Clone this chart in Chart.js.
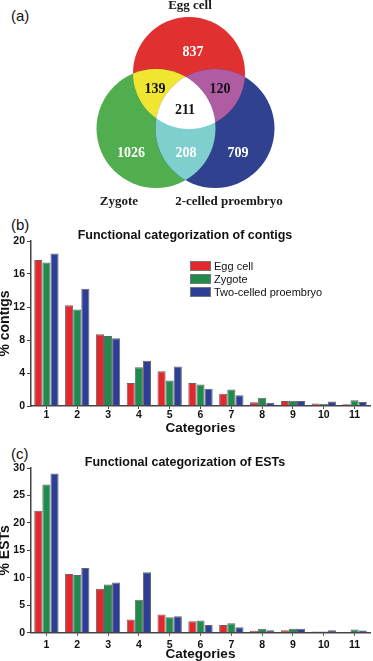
<!DOCTYPE html>
<html lang="en">
<head>
<meta charset="UTF-8" />
<title>Egg cell, zygote and two-celled proembryo</title>
<script src="https://cdn.jsdelivr.net/npm/chart.js@4.4.1/dist/chart.umd.min.js"></script>
<style>
  html, body { margin: 0; padding: 0; background: #fff; }
  body { width: 373px; height: 661px; position: relative; overflow: hidden; font-family: "Liberation Sans", Arial, sans-serif; color: #111; }
  canvas { position: absolute; left: 0; }
  .tag { position: absolute; left: 11px; font-size: 15px; line-height: 15px; }
  .legend { position: absolute; left: 190px; top: 260px; font-size: 11px; }
  .legend div { height: 12.8px; display: flex; align-items: center; }
  .legend span { display: inline-block; width: 19px; height: 8px; margin-right: 3px; border: 1px solid #777; }
</style>
</head>
<body>
  <div class="tag" style="top:8px">(a)</div>
  <div class="tag" style="top:217px">(b)</div>
  <div class="tag" style="top:446px">(c)</div>

  <canvas id="venn" width="373" height="215" style="top:0"></canvas>
  <canvas id="contigs" width="373" height="210" style="top:225px"></canvas>
  <canvas id="ests" width="373" height="216" style="top:445px"></canvas>
  <div class="legend" id="legend"></div>

<script>
  // Venn counts
  const vennSets = ['Egg cell', 'Zygote', '2-celled proembryo'];
  const vennRegions = ['Egg only', 'Zygote only', '2-cell only', 'Egg+Zygote', 'Egg+2-cell', 'Zygote+2-cell', 'All three'];
  const vennCounts = [837, 1026, 709, 139, 120, 208, 211];

  // functional categories
  const categories = ['1', '2', '3', '4', '5', '6', '7', '8', '9', '10', '11'];
  const seriesNames = ['Egg cell', 'Zygote', 'Two-celled proembryo'];

  const contigsEgg     = [17.7, 12.2, 8.7, 2.8, 4.2, 2.8, 1.5, 0.45, 0.6, 0.3, 0.2];
  const contigsZygote  = [17.4, 11.7, 8.5, 4.7, 3.1, 2.6, 2.0, 1.0, 0.65, 0.25, 0.7];
  const contigsTwoCell = [18.5, 14.2, 8.2, 5.5, 4.8, 2.1, 1.3, 0.4, 0.6, 0.55, 0.5];

  const estEgg     = [22.2, 10.7, 8.0, 2.4, 3.3, 2.1, 1.4, 0.35, 0.45, 0.2, 0];
  const estZygote  = [27.0, 10.5, 8.8, 6.0, 2.8, 2.2, 1.7, 0.7, 0.7, 0.2, 0.6];
  const estTwoCell = [29.0, 11.8, 9.15, 11.0, 3.0, 1.4, 1.0, 0.45, 0.7, 0.45, 0.4];

  const contigTicks = [0, 4, 8, 12, 16, 20];
  const estTicks = [0, 5, 10, 15, 20, 25, 30];

  const barColors = ['#e3272c', '#1e8a4c', '#2c3e96'];

  // Venn geometry, in canvas units (x 0..373, y 0..215 top-down)
  const vennCircles = [
    { x: 189, y: 73, r: 56, color: '#e0302f' },
    { x: 156, y: 128.5, r: 59.5, color: '#50ae4e' },
    { x: 215, y: 128.5, r: 59.5, color: '#2f418f' }
  ];
  const vennOverlapColors = { '0,1': '#f0e632', '0,2': '#b05ca2', '1,2': '#7fcfcf', '0,1,2': '#ffffff' };
  const vennSetLabelPos = [[190, 6], [119, 202], [229, 202]];
  const vennCountPos = [[193, 52], [131, 153], [238, 153], [155, 89], [220, 89], [186, 153], [185, 110]];
  const vennCountColors = ['#fff', '#fff', '#fff', '#111', '#111', '#fff', '#111'];

  Chart.defaults.font.family = '"Liberation Sans", Arial, sans-serif';
  Chart.defaults.color = '#111';

  const vennPlugin = {
    id: 'vennPlugin',
    afterDatasetsDraw(chart) {
      const ctx = chart.ctx;
      const pts = chart.getDatasetMeta(0).data.map(p => ({ x: p.x, y: p.y, r: p.options.radius }));
      const circle = i => { ctx.beginPath(); ctx.arc(pts[i].x, pts[i].y, pts[i].r, 0, Math.PI * 2); };

      Object.keys(vennOverlapColors).forEach(key => {
        const ids = key.split(',').map(Number);
        ctx.save();
        ids.slice(0, -1).forEach(i => { circle(i); ctx.clip(); });
        circle(ids[ids.length - 1]);
        ctx.fillStyle = vennOverlapColors[key];
        ctx.fill();
        ctx.restore();
      });

      const sx = chart.scales.x, sy = chart.scales.y;
      ctx.save();
      ctx.textAlign = 'center';
      ctx.textBaseline = 'middle';
      ctx.font = 'bold 14px "Liberation Serif", "Times New Roman", serif';
      vennCounts.forEach((n, i) => {
        ctx.fillStyle = vennCountColors[i];
        ctx.fillText(String(n), sx.getPixelForValue(vennCountPos[i][0]), sy.getPixelForValue(vennCountPos[i][1]));
      });
      ctx.font = 'bold 13px "Liberation Serif", "Times New Roman", serif';
      ctx.fillStyle = '#1a1a1a';
      vennSets.forEach((name, i) => {
        ctx.fillText(name, sx.getPixelForValue(vennSetLabelPos[i][0]), sy.getPixelForValue(vennSetLabelPos[i][1]));
      });
      ctx.restore();
    }
  };

  new Chart(document.getElementById('venn'), {
    type: 'bubble',
    data: {
      datasets: [{
        label: 'Venn',
        data: vennCircles.map(c => ({ x: c.x, y: c.y, r: c.r })),
        backgroundColor: vennCircles.map(c => c.color),
        borderWidth: 0
      }]
    },
    options: {
      responsive: false,
      animation: false,
      events: [],
      layout: { padding: 0, autoPadding: false },
      plugins: { legend: { display: false }, tooltip: { enabled: false } },
      scales: {
        x: { display: false, min: 0, max: 373 },
        y: { display: false, min: 0, max: 215, reverse: true }
      }
    },
    plugins: [vennPlugin]
  });

  function categoryChart(id, series, yTicks, yTitle, titleText, dims) {
    return new Chart(document.getElementById(id), {
      type: 'bar',
      data: {
        labels: categories,
        datasets: series.map((vals, i) => ({
          label: seriesNames[i],
          data: vals,
          backgroundColor: barColors[i],
          borderColor: '#666',
          borderWidth: 1,
          categoryPercentage: 0.79,
          barPercentage: 1.0
        }))
      },
      options: {
        responsive: false,
        animation: false,
        events: [],
        layout: { padding: { right: 3 } },
        plugins: {
          legend: { display: false },
          tooltip: { enabled: false },
          title: {
            display: true,
            text: titleText,
            color: '#111',
            font: { size: 12.5, weight: 'bold', lineHeight: 0.8 },
            padding: { top: dims.titleTop, bottom: 0 }
          }
        },
        scales: {
          x: {
            grid: { offset: false, drawOnChartArea: false, tickLength: 3, color: '#444' },
            border: { color: '#444', width: 1.5 },
            ticks: { color: '#111', font: { size: 10.5, weight: 'bold' }, padding: dims.tickPad },
            title: { display: true, text: 'Categories', color: '#111', font: { size: 13.5, weight: 'bold', lineHeight: 1 }, padding: 0 },
            afterFit: s => { s.height = dims.xHeight; }
          },
          y: {
            min: 0,
            max: yTicks[yTicks.length - 1],
            afterBuildTicks: s => { s.ticks = yTicks.map(v => ({ value: v })); },
            grid: { drawOnChartArea: false, tickLength: 4, color: '#444' },
            border: { color: '#444', width: 1.5 },
            ticks: { color: '#111', font: { size: 10.5, weight: 'bold' }, padding: 2 },
            title: { display: true, text: yTitle, color: '#111', font: { size: 14, weight: 'bold', lineHeight: 0.8 }, padding: 0 },
            afterFit: s => { s.width = 31; }
          }
        }
      }
    });
  }

  categoryChart('contigs', [contigsEgg, contigsZygote, contigsTwoCell], contigTicks,
    '% contigs', 'Functional categorization of contigs', { titleTop: 6, tickPad: 0, xHeight: 29 });
  categoryChart('ests', [estEgg, estZygote, estTwoCell], estTicks,
    '% ESTs', 'Functional categorization of ESTs', { titleTop: 13, tickPad: 3, xHeight: 28.3 });

  // legend for panel (b)
  const legend = document.getElementById('legend');
  seriesNames.forEach((name, i) => {
    const row = document.createElement('div');
    const sw = document.createElement('span');
    sw.style.background = barColors[i];
    row.appendChild(sw);
    row.appendChild(document.createTextNode(name));
    legend.appendChild(row);
  });
</script>
</body>
</html>
